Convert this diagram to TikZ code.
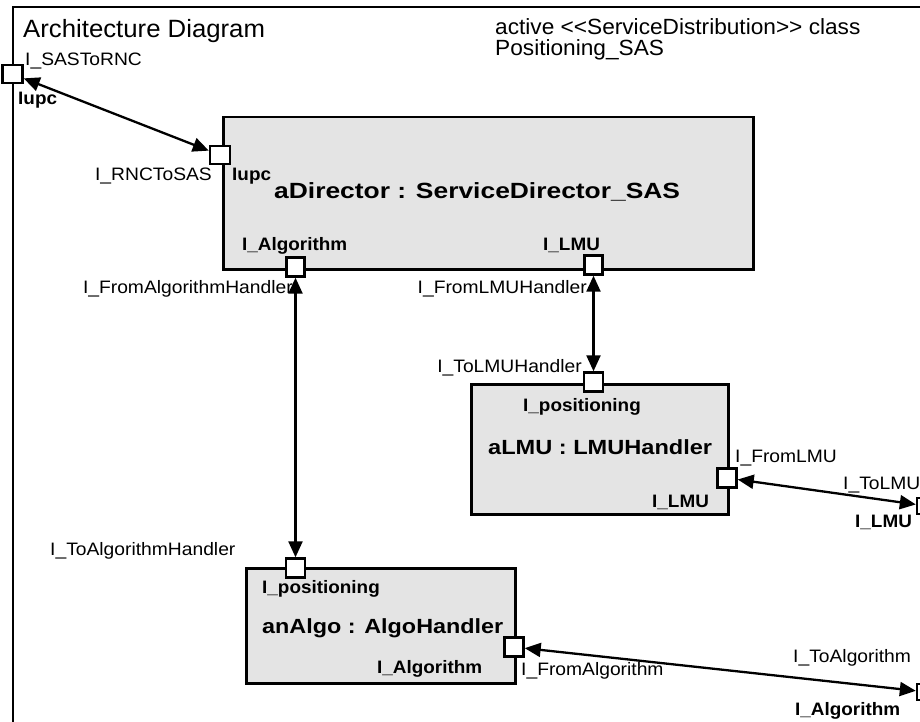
\documentclass[tikz,border=0pt]{standalone}
\usepackage{fontspec}
\setmainfont{Liberation Sans}
\usepackage{graphicx}
\usetikzlibrary{arrows.meta}
\definecolor{partgray}{RGB}{228,228,228}
\newcommand\sxr[1]{\scalebox{1.07}[1]{#1}}
\newcommand\sxb[1]{\scalebox{1.05}[1]{\bfseries #1}}
\newcommand\sxbig[2]{\scalebox{#1}[1]{\bfseries #2}}
\begin{document}
\begin{tikzpicture}[x=1pt,y=-1pt,
  lab/.style={font=\fontsize{18}{20}\selectfont, inner sep=0pt, anchor=base west},
  labr/.style={lab, anchor=base east},
  big/.style={font=\fontsize{20.5}{22}\selectfont, inner sep=0pt, anchor=base west},
  part/.style={draw=black, line width=2.5pt, fill=partgray, inner sep=0pt, anchor=north west},
  port/.style={draw=black, line width=2.4pt, fill=white, minimum width=19pt, minimum height=18pt, inner sep=0pt},
  conn/.style={line width=2.3pt, {Triangle[length=16pt,width=14pt]}-{Triangle[length=16pt,width=14pt]}},
]
\useasboundingbox (0,0) rectangle (920,722);
\fill[white] (0,0) rectangle (920,722);

% frame
\draw[line width=2.5pt] (13,740) -- (13,7) -- (940,7);
\node[font=\fontsize{25}{28}\selectfont, inner sep=0pt, anchor=base west] (title) at (23,38) {\scalebox{1.03}[1]{Architecture Diagram}};
\node[font=\fontsize{22}{22}\selectfont, inner sep=0pt, anchor=base west] (stereo1) at (495,35) {\scalebox{1.03}[1]{active <\kern0pt<ServiceDistribution>\kern0pt> class}};
\node[font=\fontsize{22}{22}\selectfont, inner sep=0pt, anchor=base west] (stereo2) at (495,56) {\scalebox{1.03}[1]{Positioning\_SAS}};

% parts
\node[part, minimum width=530pt, minimum height=152pt] (dir) at (222,116) {};
\node[part, minimum width=257pt, minimum height=130pt] (lmu) at (470,383) {};
\node[part, minimum width=269pt, minimum height=115pt] (algo) at (245,567) {};

% ports
\node[port, minimum width=20pt] (pF1) at (12.5,74) {};
\node[port, minimum width=20pt] (pD1) at (220,155) {};
\node[port, minimum width=18pt, minimum height=19pt] (pD2) at (295.5,267) {};
\node[port, minimum width=18pt, minimum height=19pt] (pD3) at (593.5,265) {};
\node[port, minimum height=19pt] (pL1) at (593.5,382) {};
\node[port, minimum height=19pt] (pL2) at (727,478) {};
\node[port, minimum width=20pt, minimum height=16pt] (pF2) at (927,506) {};
\node[port, minimum height=19pt] (pA1) at (295.5,568) {};
\node[port, minimum height=19pt] (pA2) at (514,647) {};
\node[port, minimum width=20pt, minimum height=16pt] (pF3) at (927,692) {};

% connectors
\draw[conn] (pF1) -- (pD1);
\draw[conn] (pD2) -- (pA1);
\draw[conn] (pD3) -- (pL1);
\draw[conn] (pL2) -- (pF2);
\draw[conn] (pA2) -- (pF3);

% big part labels
\node[big, font=\fontsize{22}{24}\selectfont] (tdir) at (274,198) {\sxbig{1.2}{aDirector : ServiceDirector\_SAS}};
\node[big] (tlmu) at (488,454) {\sxbig{1.15}{aLMU : LMUHandler}};
\node[big] (talgo) at (262,633) {\sxbig{1.14}{anAlgo : AlgoHandler}};

% port labels
\node[lab] (l1) at (25,66) {\sxr{I\_SASToRNC}};
\node[lab] (l2) at (18,105) {\sxb{Iupc}};
\node[labr] (l3) at (212,181) {\sxr{I\_RNCToSAS}};
\node[lab] (l4) at (232,180) {\sxb{Iupc}};
\node[lab] (l5) at (242,250) {\sxb{I\_Algorithm}};
\node[lab] (l6) at (543,250) {\sxb{I\_LMU}};
\node[labr] (l7) at (293,293) {\sxr{I\_FromAlgorithmHandler}};
\node[labr] (l8) at (587,293) {\sxr{I\_FromLMUHandler}};
\node[labr] (l9) at (582,372) {\sxr{I\_ToLMUHandler}};
\node[lab] (l10) at (523,411) {\sxb{I\_positioning}};
\node[lab] (l11) at (652,507) {\sxb{I\_LMU}};
\node[lab] (l12) at (735,462) {\sxr{I\_FromLMU}};
\node[lab] (l13) at (843,489) {\sxr{I\_ToLMU}};
\node[lab] (l14) at (855,527) {\sxb{I\_LMU}};
\node[lab] (l15) at (50,555) {\sxr{I\_ToAlgorithmHandler}};
\node[lab] (l16) at (262,593) {\sxb{I\_positioning}};
\node[lab] (l17) at (377,673) {\sxb{I\_Algorithm}};
\node[lab] (l18) at (521,675) {\sxr{I\_FromAlgorithm}};
\node[lab] (l19) at (793,662) {\sxr{I\_ToAlgorithm}};
\node[lab] (l20) at (795,715) {\sxb{I\_Algorithm}};
\end{tikzpicture}
\end{document}
